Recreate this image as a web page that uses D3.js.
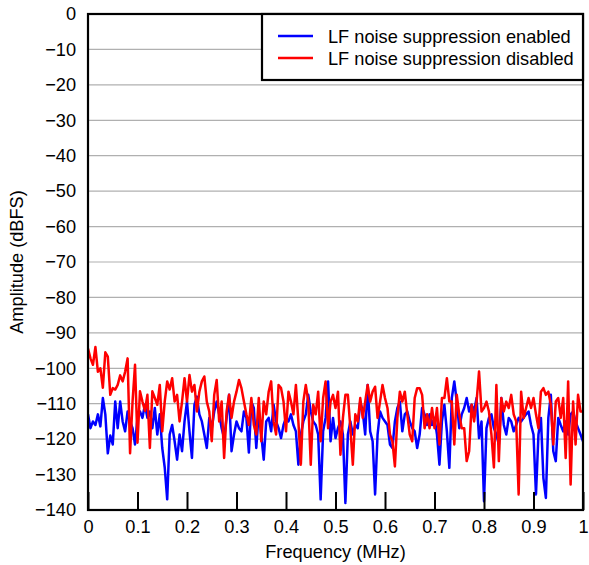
<!DOCTYPE html>
<html>
<head>
<meta charset="utf-8">
<script src="https://cdn.jsdelivr.net/npm/d3@7"></script>
<style>
  body { margin: 0; background: white; }
  text { font-family: "Liberation Sans", Arial, sans-serif; fill: black; }
</style>
</head>
<body>
<div id="chart"></div>
<script>
// frequency bins (MHz)
var freqs = [0,0.005,0.01,0.015,0.02,0.025,0.03,0.035,0.04,0.045,0.05,0.055,0.06,0.065,0.07,0.075,0.08,0.085,0.09,0.095,
  0.1,0.105,0.11,0.115,0.12,0.125,0.13,0.135,0.14,0.145,0.15,0.155,0.16,0.165,0.17,0.175,0.18,0.185,0.19,0.195,
  0.2,0.205,0.21,0.215,0.22,0.225,0.23,0.235,0.24,0.245,0.25,0.255,0.26,0.265,0.27,0.275,0.28,0.285,0.29,0.295,
  0.3,0.305,0.31,0.315,0.32,0.325,0.33,0.335,0.34,0.345,0.35,0.355,0.36,0.365,0.37,0.375,0.38,0.385,0.39,0.395,
  0.4,0.405,0.41,0.415,0.42,0.425,0.43,0.435,0.44,0.445,0.45,0.455,0.46,0.465,0.47,0.475,0.48,0.485,0.49,0.495,
  0.5,0.505,0.51,0.515,0.52,0.525,0.53,0.535,0.54,0.545,0.55,0.555,0.56,0.565,0.57,0.575,0.58,0.585,0.59,0.595,
  0.6,0.605,0.61,0.615,0.62,0.625,0.63,0.635,0.64,0.645,0.65,0.655,0.66,0.665,0.67,0.675,0.68,0.685,0.69,0.695,
  0.7,0.705,0.71,0.715,0.72,0.725,0.73,0.735,0.74,0.745,0.75,0.755,0.76,0.765,0.77,0.775,0.78,0.785,0.79,0.795,
  0.8,0.805,0.81,0.815,0.82,0.825,0.83,0.835,0.84,0.845,0.85,0.855,0.86,0.865,0.87,0.875,0.88,0.885,0.89,0.895,
  0.9,0.905,0.91,0.915,0.92,0.925,0.93,0.935,0.94,0.945,0.95,0.955,0.96,0.965,0.97,0.975,0.98,0.985,0.99,0.995,1];

// amplitude (dBFS), LF noise suppression enabled
var enabled = [-113,-116.9,-115,-116,-113,-116.4,-108.4,-113,-124,-119,-121.5,-109.4,-116.9,-109.4,-115,-117.8,-112.2,-115,-116.9,-121.5,
  -114,-112.2,-114,-110.3,-114,-112.2,-116.9,-111.2,-118.7,-113,-122.5,-128,-137,-118.7,-116,-120.6,-125.8,-118.7,-123.4,-115,
  -109.4,-117.8,-125.3,-110.3,-108,-113,-115,-118.7,-122.5,-114,-116.9,-112.2,-109.4,-113,-116.9,-119.7,-114,-107.5,-123.4,-118.7,
  -115,-116.9,-117.8,-112.2,-114,-123.8,-109.4,-111.2,-122.5,-112.2,-118.7,-125.8,-115,-114,-117.8,-110.3,-115,-116.9,-119.7,-116,
  -114,-115,-113,-116,-117.8,-127.2,-118.7,-115,-113,-107.5,-112.2,-115,-116,-118.7,-137,-117.8,-114,-103.7,-120.6,-114,
  -119.7,-116.9,-115,-118.7,-138,-118.7,-115,-118.7,-116,-116.9,-109.4,-112.2,-118.7,-104.7,-117.8,-120.6,-135.6,-118.7,-112.2,-114,
  -115,-116,-121.5,-122.5,-115,-111.2,-109.4,-117.8,-113,-112.2,-115,-116.9,-117.8,-122.5,-118.7,-111.2,-113,-116,-113,-116,
  -114,-118.7,-127.2,-115,-110.3,-117.8,-128.1,-108.4,-103.7,-109.4,-116.9,-113,-111.2,-108.4,-112.2,-110.3,-112.2,-108.4,-119.7,-115,
  -137.5,-116.9,-114,-113,-116.9,-118.7,-121.5,-108.4,-116,-118.7,-114,-115,-117.8,-116,-114,-115,-114,-113,-112.2,-116,
  -118.7,-135.6,-118.7,-114,-131,-136.6,-114,-107.5,-123.4,-126.2,-114,-116,-117.8,-115,-118.7,-113,-112.2,-115,-116.9,-118.7,-120.6];

// amplitude (dBFS), LF noise suppression disabled
var disabled = [-94.4,-97.2,-99,-94,-101,-100,-105.5,-95.5,-96.7,-107.5,-105.6,-106,-104.7,-102,-103.7,-101,-97.2,-124,-109.4,-99,
  -121,-106.5,-109.4,-112,-107.5,-122.5,-106.5,-108.4,-110.3,-104.7,-117.8,-109.4,-103.7,-106,-102.8,-109.4,-107.5,-115,-109.4,-102.8,
  -109.4,-101.9,-106.6,-104.7,-112.2,-106.6,-103.7,-102.3,-109.4,-112.2,-120.6,-107.5,-103.3,-115,-109.4,-125.3,-112.2,-107.5,-114,-109.4,
  -106.6,-103.3,-105.6,-109.4,-113,-116,-108.4,-116,-118.7,-108.4,-120.6,-109.4,-113,-106.6,-103.7,-115,-118.7,-104.7,-105.6,-109.4,
  -117.8,-106.6,-109.4,-113,-104.7,-115,-127.2,-109.4,-104.7,-109.4,-127.2,-110.3,-113,-106.6,-120.6,-108.4,-103.7,-116.9,-109.4,-107.5,
  -111.2,-106.6,-124.4,-114,-107.5,-107.5,-116.9,-127.2,-113,-115,-108.4,-114,-109.4,-104.7,-109.4,-106.6,-105.2,-114,-109.4,-104.7,
  -108.4,-111.2,-118.7,-120.6,-127.7,-114,-106.6,-109.4,-106.6,-113,-118.7,-120.6,-108.4,-105.6,-105.6,-107.5,-116.9,-113,-116.9,-111.2,
  -116.9,-111.2,-121.5,-108.4,-108.4,-102.8,-109.4,-109.4,-121.5,-107.5,-113,-116.9,-116.9,-126.2,-123.4,-110.3,-115,-109.4,-100.9,-112.2,
  -111.2,-109.4,-112.2,-118.7,-128,-104.7,-126.2,-108.4,-112.2,-109.4,-111.2,-107.5,-113,-115,-135.6,-106.6,-114,-111.2,-108.4,-111.2,
  -108.4,-113,-116.9,-106.6,-105.6,-107.5,-106.6,-110.3,-121.5,-109.4,-108.4,-114,-108.4,-125.3,-103.7,-132.8,-109.4,-121.5,-107.5,-112.2,-112.2];

var seriesNames = ["LF noise suppression enabled", "LF noise suppression disabled"];
var seriesColors = ["#0000ff", "#ff0000"];
var xTicks = [0,0.1,0.2,0.3,0.4,0.5,0.6,0.7,0.8,0.9,1];
var yTicks = [0,-10,-20,-30,-40,-50,-60,-70,-80,-90,-100,-110,-120,-130,-140];

var width = 589, height = 565;
var plotLeft = 88, plotRight = 583, plotTop = 14, plotBottom = 510;
var fontSize = "18.2px";

var svg = d3.select("#chart").append("svg")
    .attr("width", width)
    .attr("height", height);

var x = d3.scaleLinear().domain([0, 1]).range([plotLeft, plotRight]);
var y = d3.scaleLinear().domain([-140, 0]).range([plotBottom, plotTop]);

// horizontal grid
svg.append("g")
    .selectAll("line")
    .data(yTicks)
    .enter()
    .append("line")
    .attr("x1", plotLeft).attr("x2", plotRight)
    .attr("y1", function(d) { return y(d); })
    .attr("y2", function(d) { return y(d); })
    .attr("stroke", "#b0b0b0")
    .attr("stroke-width", 1.2);

svg.append("clipPath").attr("id", "plot")
    .append("rect")
    .attr("x", plotLeft).attr("y", plotTop)
    .attr("width", plotRight - plotLeft).attr("height", plotBottom - plotTop);

var line = d3.line()
    .x(function(d) { return x(d[0]); })
    .y(function(d) { return y(d[1]); });

[enabled, disabled].forEach(function(vals, i) {
    svg.append("path")
        .datum(freqs.map(function(f, j) { return [f, vals[j]]; }))
        .attr("clip-path", "url(#plot)")
        .attr("fill", "none")
        .attr("stroke", seriesColors[i])
        .attr("stroke-width", 2.5)
        .attr("stroke-linejoin", "round")
        .attr("d", line);
});

// inner ticks on the bottom axis
svg.append("g")
    .attr("transform", "translate(0," + plotBottom + ")")
    .call(d3.axisBottom(x).tickValues(xTicks).tickSize(-18).tickPadding(10)
        .tickFormat(function(d) { return d === 0 || d === 1 ? String(d) : d3.format(".1f")(d); }))
    .call(function(g) {
        g.select(".domain").remove();
        g.selectAll(".tick line").attr("stroke", "black").attr("stroke-width", 2);
        g.selectAll(".tick text").attr("font-size", fontSize).attr("fill", "black");
    });

svg.append("g")
    .attr("transform", "translate(" + (plotLeft - 12) + ",0)")
    .call(d3.axisLeft(y).tickValues(yTicks).tickSize(0).tickPadding(0))
    .call(function(g) {
        g.select(".domain").remove();
        g.selectAll(".tick text").attr("font-size", fontSize).attr("fill", "black");
    });

// frame
svg.append("rect")
    .attr("x", plotLeft).attr("y", plotTop)
    .attr("width", plotRight - plotLeft).attr("height", plotBottom - plotTop)
    .attr("fill", "none")
    .attr("stroke", "black")
    .attr("stroke-width", 2.2);

svg.append("text")
    .attr("x", (plotLeft + plotRight) / 2)
    .attr("y", 558)
    .attr("text-anchor", "middle")
    .attr("font-size", fontSize)
    .text("Frequency (MHz)");

svg.append("text")
    .attr("transform", "translate(23," + ((plotTop + plotBottom) / 2) + ") rotate(-90)")
    .attr("text-anchor", "middle")
    .attr("font-size", fontSize)
    .text("Amplitude (dBFS)");

// legend
var legend = svg.append("g");
legend.append("rect")
    .attr("x", 262).attr("y", plotTop)
    .attr("width", plotRight - 262).attr("height", 66)
    .attr("fill", "white")
    .attr("stroke", "black")
    .attr("stroke-width", 2.2);

var items = legend.selectAll("g.item")
    .data(seriesNames)
    .enter()
    .append("g")
    .attr("transform", function(d, i) { return "translate(0," + (36 + i * 22) + ")"; });

items.append("line")
    .attr("x1", 278).attr("x2", 313)
    .attr("stroke", function(d, i) { return seriesColors[i]; })
    .attr("stroke-width", 2.5);

items.append("text")
    .attr("x", 328)
    .attr("y", 7)
    .attr("font-size", fontSize)
    .text(function(d) { return d; });
</script>
</body>
</html>
